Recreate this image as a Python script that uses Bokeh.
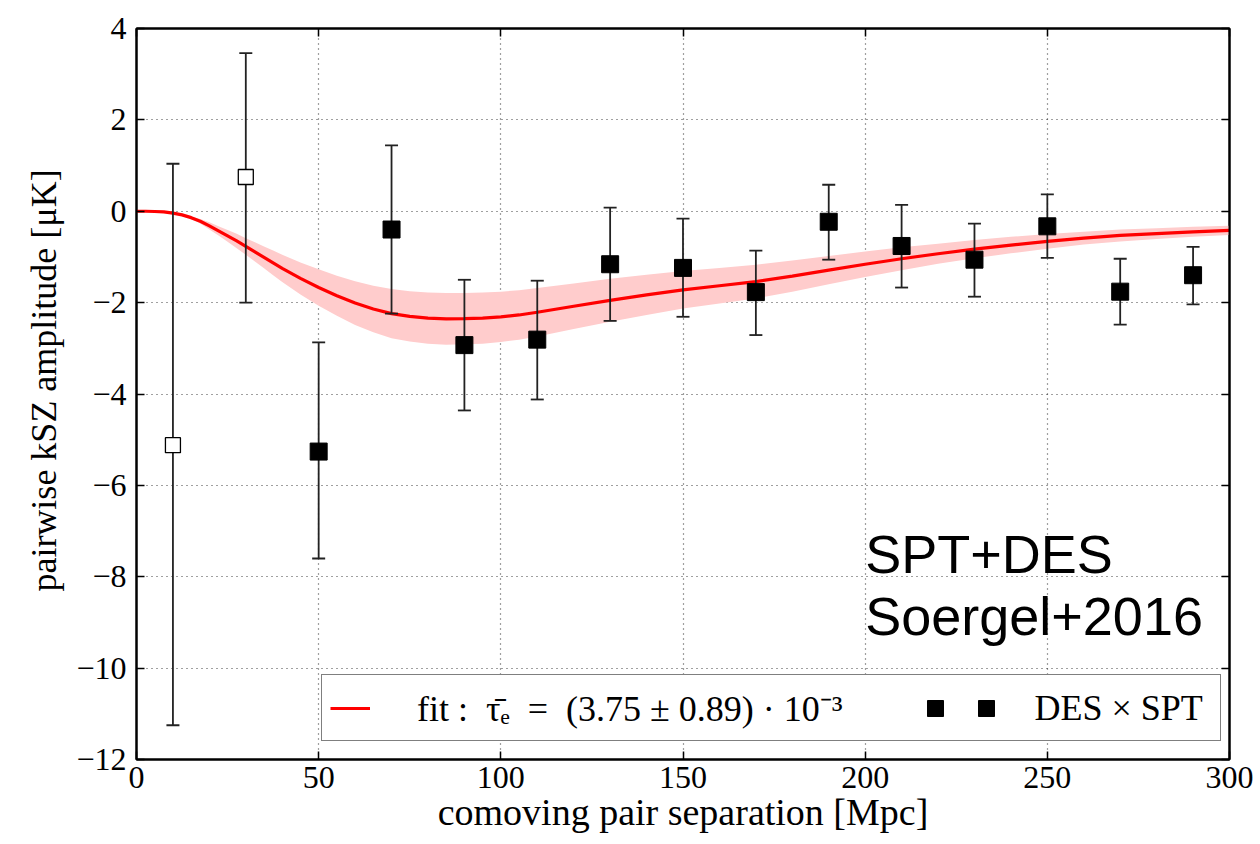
from bokeh.plotting import figure
from bokeh.models import (ColumnDataSource, Legend, LegendItem, LinearAxis, FixedTicker, Label)
from bokeh.embed import file_html
from bokeh.resources import INLINE

# ---------------- data ----------------
fit_x = [0, 2.5, 5, 7.5, 10, 12.5, 15, 17.5, 20, 22.5, 25, 27.5, 30, 32.5, 35, 37.5, 40, 45,
         50, 55, 60, 65, 70, 75, 80, 85, 90, 95, 100, 105, 110, 120, 130, 140, 150, 160, 170,
         180, 190, 200, 210, 220, 230, 240, 250, 260, 270, 280, 290, 300]
fit_y = [0.0, 0.0, -0.005, -0.015, -0.04, -0.08, -0.14, -0.22, -0.32, -0.43, -0.54, -0.65,
         -0.77, -0.89, -1.01, -1.13, -1.25, -1.47, -1.67, -1.85, -2.01, -2.14, -2.24, -2.30,
         -2.34, -2.355, -2.35, -2.34, -2.31, -2.27, -2.21, -2.08, -1.95, -1.83, -1.72, -1.63,
         -1.54, -1.42, -1.29, -1.16, -1.04, -0.93, -0.83, -0.74, -0.66, -0.59, -0.53, -0.49,
         -0.45, -0.42]
band_hi = [0.0, 0.0, -0.004, -0.011, -0.03, -0.06, -0.11, -0.17, -0.24, -0.33, -0.41, -0.49,
           -0.59, -0.68, -0.77, -0.86, -0.95, -1.12, -1.27, -1.41, -1.53, -1.63, -1.70, -1.75,
           -1.78, -1.79, -1.79, -1.78, -1.76, -1.73, -1.68, -1.58, -1.48, -1.39, -1.31, -1.24,
           -1.17, -1.08, -0.98, -0.88, -0.79, -0.71, -0.63, -0.56, -0.50, -0.45, -0.40, -0.37,
           -0.34, -0.32]
band_lo = [0.0, 0.0, -0.006, -0.019, -0.05, -0.10, -0.17, -0.27, -0.40, -0.53, -0.67, -0.81,
           -0.95, -1.10, -1.25, -1.40, -1.55, -1.82, -2.07, -2.29, -2.49, -2.65, -2.78, -2.85,
           -2.90, -2.92, -2.91, -2.90, -2.86, -2.81, -2.74, -2.58, -2.42, -2.27, -2.13, -2.02,
           -1.91, -1.76, -1.60, -1.44, -1.29, -1.15, -1.03, -0.92, -0.82, -0.73, -0.66, -0.61,
           -0.56, -0.52]

open_x = [10, 30]
open_y = [-5.12, 0.75]
open_up = [1.04, 3.46]
open_lo = [-11.25, -2.0]

pts_x = [50, 70, 90, 110, 130, 150, 170, 190, 210, 230, 250, 270, 290]
pts_y = [-5.26, -0.40, -2.93, -2.81, -1.16, -1.24, -1.77, -0.23, -0.76, -1.06, -0.33, -1.76, -1.40]
pts_up = [-2.87, 1.44, -1.50, -1.52, 0.08, -0.16, -0.86, 0.58, 0.14, -0.27, 0.37, -1.04, -0.78]
pts_lo = [-7.60, -2.24, -4.36, -4.12, -2.40, -2.31, -2.71, -1.06, -1.67, -1.87, -1.02, -2.48, -2.04]

x_ticks = [0, 50, 100, 150, 200, 250, 300]
y_ticks = [-12, -10, -8, -6, -4, -2, 0, 2, 4]
y_tick_labels = {t: (("\u2212" + str(-t)) if t < 0 else str(t)) for t in y_ticks}

fit_label = "fit :  \u03c4\u0304\u2091  =  (3.75 \u00b1 0.89) \u00b7 10\u207b\u00b3"
data_label = "DES \u00d7 SPT"

SERIF = "Liberation Serif"
NB = "\u00a0"

# ---------------- figure ----------------
p = figure(width=1260, height=844, x_range=(0, 300), y_range=(-12, 4),
           output_backend="svg", toolbar_location=None,
           min_border_left=136, min_border_right=31, min_border_top=28, min_border_bottom=85,
           background_fill_color="white", border_fill_color="white")
p.outline_line_color = "black"
p.outline_line_width = 2

band_src = ColumnDataSource(dict(x=fit_x, lo=band_lo, hi=band_hi))
p.varea(x="x", y1="lo", y2="hi", source=band_src, fill_color="#ffcccc", fill_alpha=1.0)

fit_src = ColumnDataSource(dict(x=fit_x, y=fit_y))
fit_r = p.line("x", "y", source=fit_src, line_color="#ff0000", line_width=3.2)

ERR_COL = "#222222"
open_src = ColumnDataSource(dict(x=open_x, y=open_y, up=open_up, lo=open_lo))
pts_src = ColumnDataSource(dict(x=pts_x, y=pts_y, up=pts_up, lo=pts_lo))
for src in (open_src, pts_src):
    p.segment(x0="x", y0="lo", x1="x", y1="up", source=src, line_color=ERR_COL, line_width=1.8)
    p.scatter("x", "up", source=src, marker="dash", size=13, line_color=ERR_COL, line_width=1.8)
    p.scatter("x", "lo", source=src, marker="dash", size=13, line_color=ERR_COL, line_width=1.8)

p.scatter("x", "y", source=open_src, marker="square", size=15, fill_color="white",
          line_color="black", line_width=1.3)
pts_r = p.scatter("x", "y", source=pts_src, marker="square", size=17, fill_color="black",
                  line_color="black")

# ---------------- axes ----------------
p.xaxis.ticker = FixedTicker(ticks=x_ticks)
p.yaxis.ticker = FixedTicker(ticks=y_ticks)
p.yaxis.major_label_overrides = y_tick_labels

for ax in (p.xaxis[0], p.yaxis[0]):
    ax.major_tick_in = 8
    ax.major_tick_out = 0
    ax.minor_tick_line_color = None
    ax.axis_line_color = "black"
    ax.axis_line_width = 2
    ax.major_tick_line_width = 1.5
    ax.major_label_text_font = SERIF
    ax.major_label_text_font_size = "32px"
    ax.major_label_text_color = "black"
    ax.axis_label_text_font = SERIF
    ax.axis_label_text_font_style = "normal"
    ax.axis_label_text_color = "black"

p.xaxis.axis_label = "comoving pair separation [Mpc]"
p.yaxis.axis_label = NB * 3 + "pairwise kSZ amplitude [\u03bcK]"
p.xaxis.axis_label_text_font_size = "38px"
p.yaxis.axis_label_text_font_size = "36px"
p.xaxis.major_label_standoff = 7
p.yaxis.major_label_standoff = 10
p.xaxis.axis_label_standoff = 0
p.yaxis.axis_label_standoff = 9

for side, ticks in (("right", y_ticks), ("above", x_ticks)):
    ax = LinearAxis(ticker=FixedTicker(ticks=ticks), major_tick_in=8, major_tick_out=0,
                    minor_tick_line_color=None, axis_line_color="black", axis_line_width=2,
                    major_tick_line_width=1.5, major_label_standoff=0,
                    major_label_overrides={t: "" for t in ticks})
    p.add_layout(ax, side)

p.xgrid.ticker = FixedTicker(ticks=x_ticks)
p.ygrid.ticker = FixedTicker(ticks=y_ticks)
p.grid.grid_line_color = "black"
p.grid.grid_line_alpha = 0.75
p.grid.grid_line_dash = "1 4"
p.grid.grid_line_width = 1.2

# ---------------- text ----------------
for txt, yy in (("SPT+DES", -7.5), ("Soergel+2016", -8.85)):
    p.add_layout(Label(x=200, y=yy, text=txt, text_font="Liberation Sans",
                       text_font_size="54px", text_color="black", text_baseline="alphabetic"))

# ---------------- legend ----------------
legend = Legend(items=[
    LegendItem(label=NB * 5 + fit_label + NB * 8, renderers=[fit_r]),
    LegendItem(label=NB, renderers=[pts_r]),
    LegendItem(label=NB * 3 + data_label + NB, renderers=[pts_r]),
], orientation="horizontal", location=(185, 18))
legend.label_text_font = SERIF
legend.label_text_font_size = "36px"
legend.label_text_color = "black"
legend.border_line_color = "black"
legend.border_line_width = 1.5
legend.background_fill_color = "white"
legend.background_fill_alpha = 1.0
legend.padding = 8
legend.spacing = 0
legend.glyph_width = 40
legend.glyph_height = 44
legend.label_standoff = 2
legend.label_width = 0
legend.margin = 0
p.add_layout(legend, "center")

open("out.html", "w").write(file_html(p, INLINE))
